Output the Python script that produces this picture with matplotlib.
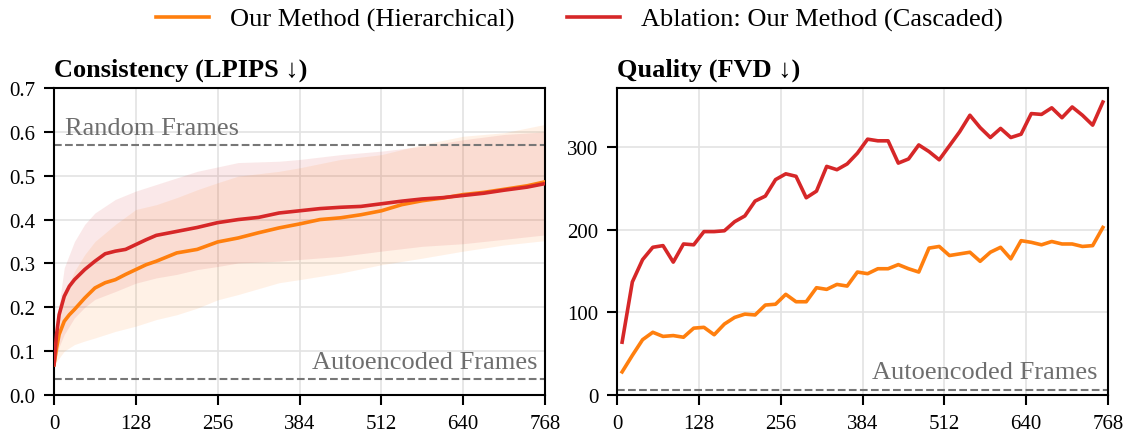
import numpy as np
import matplotlib
matplotlib.use("Agg")
import matplotlib.pyplot as plt
from matplotlib.lines import Line2D

plt.rcParams['font.family'] = ['Liberation Serif', 'DejaVu Serif']

# ---------------- data: Consistency (LPIPS) ----------------
lp_frames = [0, 4, 8, 16, 24, 32, 48, 64, 80, 96, 112, 128, 144, 160, 192, 224,
             256, 288, 320, 352, 384, 416, 448, 480, 512, 544, 576, 608, 640,
             672, 704, 740, 768]
lp_hier = [0.069, 0.107, 0.138, 0.168, 0.183, 0.195, 0.221, 0.244, 0.256, 0.263,
           0.275, 0.286, 0.297, 0.305, 0.324, 0.332, 0.349, 0.358, 0.370, 0.381,
           0.390, 0.400, 0.404, 0.411, 0.420, 0.434, 0.443, 0.449, 0.457, 0.462,
           0.469, 0.477, 0.486]
lp_casc = [0.069, 0.138, 0.183, 0.225, 0.248, 0.263, 0.286, 0.305, 0.322, 0.328,
           0.332, 0.343, 0.354, 0.364, 0.373, 0.382, 0.393, 0.400, 0.405, 0.415,
           0.420, 0.425, 0.428, 0.430, 0.436, 0.442, 0.447, 0.450, 0.455, 0.460,
           0.467, 0.474, 0.482]

band_frames = [0, 8, 16, 32, 48, 64, 96, 128, 160, 192, 224, 256, 288, 352, 384,
               448, 512, 576, 640, 704, 768]
casc_upper = [0.069, 0.206, 0.290, 0.350, 0.389, 0.415, 0.446, 0.465, 0.480, 0.495,
              0.510, 0.520, 0.530, 0.533, 0.537, 0.548, 0.556, 0.567, 0.582, 0.594, 0.600]
casc_lower = [0.069, 0.110, 0.138, 0.176, 0.200, 0.218, 0.236, 0.255, 0.267, 0.275,
              0.286, 0.293, 0.301, 0.305, 0.309, 0.316, 0.328, 0.339, 0.345, 0.355, 0.365]
hier_upper = [0.069, 0.176, 0.229, 0.282, 0.320, 0.350, 0.389, 0.423, 0.434, 0.450,
              0.468, 0.484, 0.499, 0.510, 0.518, 0.537, 0.548, 0.571, 0.590, 0.598, 0.617]
hier_lower = [0.069, 0.084, 0.100, 0.115, 0.123, 0.130, 0.145, 0.157, 0.172, 0.183,
              0.198, 0.217, 0.229, 0.256, 0.263, 0.278, 0.297, 0.312, 0.328, 0.342, 0.352]

lp_random = 0.57
lp_autoenc = 0.037

# ---------------- data: Quality (FVD) ----------------
fvd_frames = list(range(8, 768, 16))
fvd_hier = [28, 48, 67, 76, 71, 72, 70, 81, 82, 73, 86, 94, 98, 97, 109, 110,
            122, 113, 113, 130, 128, 134, 132, 149, 147, 153, 153, 158, 153, 149,
            178, 180, 169, 171, 173, 162, 173, 179, 165, 187, 185, 182, 186, 183,
            183, 180, 181, 203]
fvd_casc = [64, 137, 164, 179, 181, 161, 183, 182, 198, 198, 199, 210, 217, 235,
            241, 261, 268, 265, 239, 247, 277, 273, 280, 293, 310, 308, 308, 281,
            286, 303, 295, 285, 302, 319, 339, 324, 312, 323, 312, 316, 341, 340,
            348, 336, 349, 339, 327, 355]
fvd_autoenc = 6

xticks = [0, 128, 256, 384, 512, 640, 768]

C_HIER = '#ff7f0e'
C_CASC = '#d62728'
GRAY = '#777777'
TXT_GRAY = '#6e6e6e'

fig = plt.figure(figsize=(11.3, 4.35), dpi=100)
ax1 = fig.add_axes([54/1130, 39/435, 491/1130, 307/435])
ax2 = fig.add_axes([617/1130, 39/435, 491/1130, 307/435])

for ax in (ax1, ax2):
    ax.set_axisbelow(True)
    ax.grid(True, color='#e3e3e3', linewidth=1.2)
    for s in ax.spines.values():
        s.set_linewidth(1.5)
        s.set_color('black')
    ax.tick_params(axis='both', direction='out', length=7, width=1.5,
                   labelsize=15, color='black', pad=6.5)
    ax.set_xlim(0, 768)
    ax.set_xticks(xticks)

# Left panel
ax1.fill_between(band_frames, hier_lower, hier_upper, color=C_HIER, alpha=0.1, linewidth=0)
ax1.fill_between(band_frames, casc_lower, casc_upper, color=C_CASC, alpha=0.1, linewidth=0)
ax1.plot(lp_frames, lp_hier, color=C_HIER, lw=2.6, zorder=3)
ax1.plot(lp_frames, lp_casc, color=C_CASC, lw=2.6, zorder=4)
ax1.axhline(lp_random, color=GRAY, ls='--', lw=1.5, zorder=2)
ax1.axhline(lp_autoenc, color=GRAY, ls='--', lw=1.5, zorder=2)
ax1.text(17, 0.595, 'Random Frames', color=TXT_GRAY, fontsize=19, va='baseline', ha='left')
ax1.text(757, 0.061, 'Autoencoded Frames', color=TXT_GRAY, fontsize=19, va='baseline', ha='right')
ax1.set_ylim(0, 0.7)
ax1.set_yticks([0.0, 0.1, 0.2, 0.3, 0.4, 0.5, 0.6, 0.7])
ax1.set_yticklabels(['0.0', '0.1', '0.2', '0.3', '0.4', '0.5', '0.6', '0.7'])
ax1.set_title('Consistency (LPIPS \u2193)', loc='left', fontsize=19, fontweight='bold', pad=9)

# Right panel
ax2.plot(fvd_frames, fvd_hier, color=C_HIER, lw=2.6, zorder=3)
ax2.plot(fvd_frames, fvd_casc, color=C_CASC, lw=2.6, zorder=4)
ax2.axhline(fvd_autoenc, color=GRAY, ls='--', lw=1.5, zorder=2)
ax2.text(752, 20, 'Autoencoded Frames', color=TXT_GRAY, fontsize=19, va='baseline', ha='right')
ax2.set_ylim(0, 372)
ax2.set_yticks([0, 100, 200, 300])
ax2.set_title('Quality (FVD \u2193)', loc='left', fontsize=19, fontweight='bold', pad=9)

handles = [Line2D([], [], color=C_HIER, lw=2.6), Line2D([], [], color=C_CASC, lw=2.6)]
fig.legend(handles, ['Our Method (Hierarchical)', 'Ablation: Our Method (Cascaded)'],
           loc='upper center', bbox_to_anchor=(0.513, 1.035), ncol=2, frameon=False,
           fontsize=19, handlelength=2.0, columnspacing=2.0, handletextpad=0.8)

fig.savefig('out.png', dpi=100)
